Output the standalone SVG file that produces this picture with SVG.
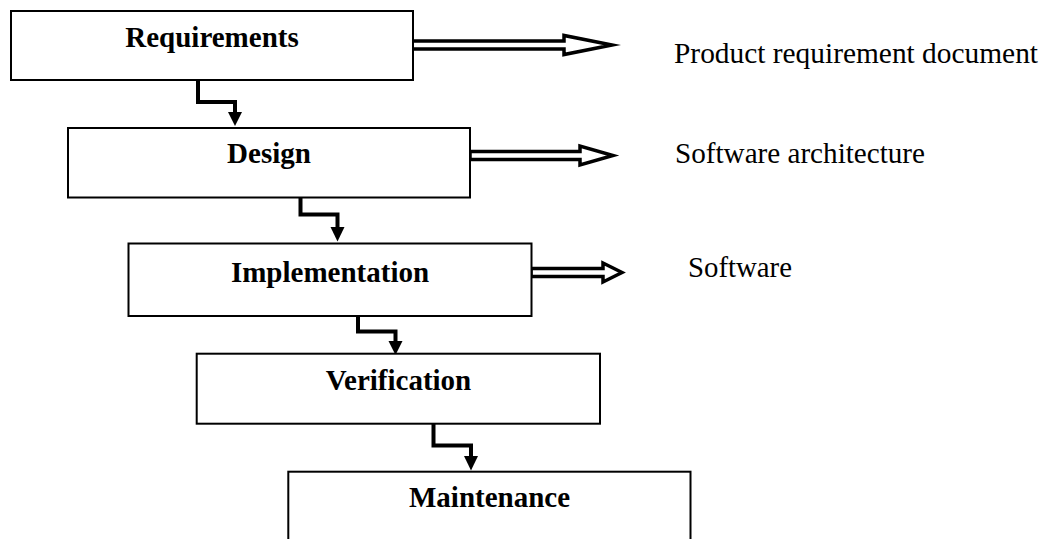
<svg xmlns="http://www.w3.org/2000/svg" width="1051" height="539" viewBox="0 0 1051 539">
  <style>
    .box { fill: #ffffff; stroke: #000000; stroke-width: 2; }
    .lbl { font-family: "Liberation Serif", "Times New Roman", serif; font-weight: bold; font-size: 29px; fill: #000000; text-anchor: middle; }
    .out { font-family: "Liberation Serif", "Times New Roman", serif; font-size: 30px; fill: #000000; }
    .elbow { fill: none; stroke: #000000; stroke-width: 4; stroke-linejoin: miter; stroke-linecap: butt; }
    .head { fill: #000000; stroke: none; }
    .hollow { fill: #ffffff; stroke: #000000; stroke-width: 3.5; stroke-linejoin: miter; stroke-miterlimit: 12; }
  </style>
  <rect x="0" y="0" width="1051" height="539" fill="#ffffff"/>

  <g id="connectors">
    <!-- elbow flow arrows -->
    <path class="elbow" d="M198,78 V102 H235 V113"/>
    <polygon class="head" points="228,112 242,112 235,126"/>
    <path class="elbow" d="M300.5,190 V214.5 H337.5 V228"/>
    <polygon class="head" points="330.5,227 344.5,227 337.5,241.5"/>
    <path class="elbow" d="M358,312 V331.5 H395.5 V342"/>
    <polygon class="head" points="388.5,341 402.5,341 395.5,355"/>
    <path class="elbow" d="M433.5,421 V445.5 H471 V457"/>
    <polygon class="head" points="464,456 478,456 471,470.5"/>
    <!-- hollow output arrows -->
    <path class="hollow" d="M412,41 H564 V35.5 L612,45 L564,54.5 V49 H412 Z"/>
    <path class="hollow" d="M470,151.5 H580 V146 L613,155.5 L580,165 V159.5 H470 Z"/>
    <path class="hollow" d="M531,268.5 H603 V263 L622,272.5 L603,282 V276.5 H531 Z"/>
  </g>

  <g id="requirements">
    <rect class="box" x="11" y="11" width="402" height="69"/>
    <text class="lbl" x="212" y="46.5">Requirements</text>
  </g>
  <g id="design">
    <rect class="box" x="68" y="128" width="402" height="69.5"/>
    <text class="lbl" x="269" y="163">Design</text>
  </g>
  <g id="implementation">
    <rect class="box" x="128.5" y="243.5" width="403" height="72.5"/>
    <text class="lbl" x="330" y="281.5">Implementation</text>
  </g>
  <g id="verification">
    <rect class="box" x="196.7" y="353.7" width="403.3" height="70"/>
    <text class="lbl" x="398.5" y="390">Verification</text>
  </g>
  <g id="maintenance">
    <rect class="box" x="288.3" y="471.7" width="402.2" height="80"/>
    <text class="lbl" x="489.5" y="507">Maintenance</text>
  </g>

  <g id="outputs">
    <text id="out-prd" class="out" x="674" y="63" textLength="364" lengthAdjust="spacingAndGlyphs">Product requirement document</text>
    <text id="out-arch" class="out" x="675" y="163" textLength="250" lengthAdjust="spacingAndGlyphs">Software architecture</text>
    <text id="out-sw" class="out" x="688" y="277" textLength="104" lengthAdjust="spacingAndGlyphs">Software</text>
  </g>
</svg>
